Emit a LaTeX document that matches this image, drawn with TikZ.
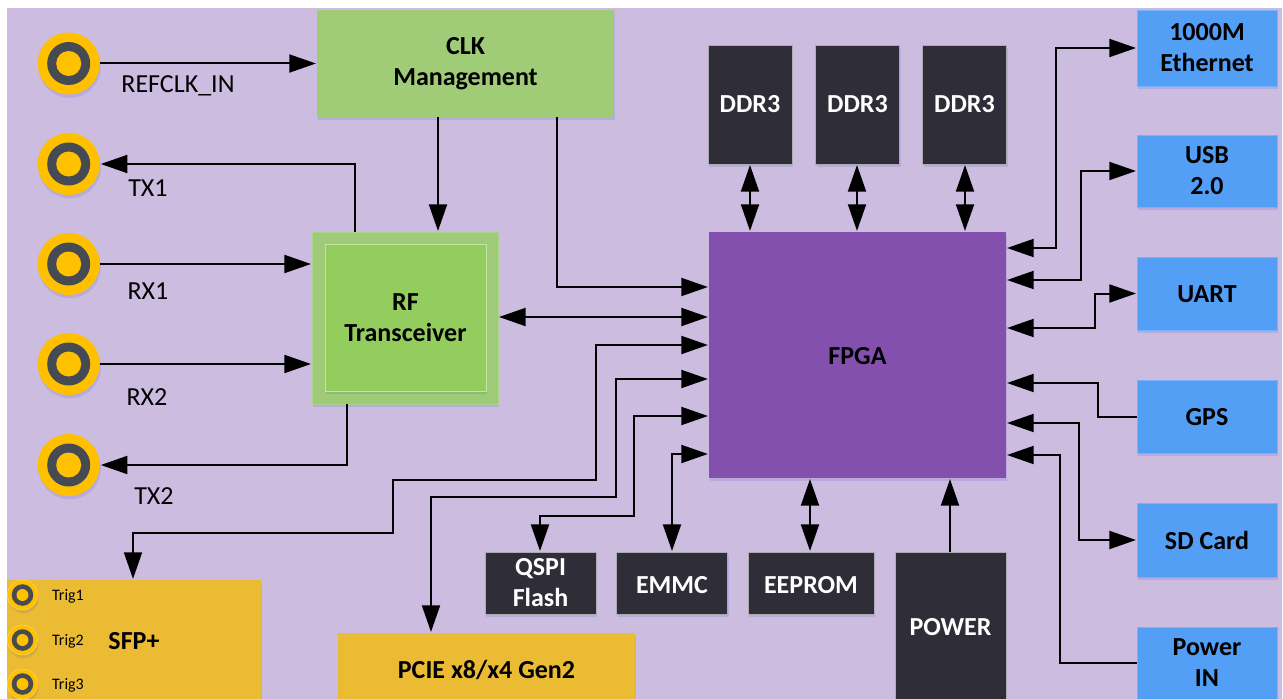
\documentclass[tikz,border=0pt]{standalone}
\usepackage{fontspec}
\setmainfont{Carlito}
\usetikzlibrary{arrows.meta,shadows,calc}

\definecolor{backlilac}{HTML}{CBBCE0}
\definecolor{clkgreen}{HTML}{A0CC78}
\definecolor{rfouter}{HTML}{9FCA78}
\definecolor{rfinner}{HTML}{93CD5E}
\definecolor{fpgapurple}{HTML}{8350AD}
\definecolor{chipdark}{HTML}{2F2D38}
\definecolor{ifaceblue}{HTML}{529FF5}
\definecolor{slotgold}{HTML}{EBBB34}
\definecolor{coaxgold}{HTML}{FFC000}
\definecolor{coaxgray}{HTML}{464A52}

\tikzset{
	softshadow/.style={drop shadow={shadow xshift=0.8pt, shadow yshift=-2.5pt, opacity=0.09, fill=blue!70!black}},
	boldtext/.style={font=\fontsize{19.5}{23.25}\selectfont\bfseries},
	textdrop/.style={execute at begin node={\rule{0pt}{#1}}},
	block/.style args={#1 by #2}{rectangle, inner sep=0pt, align=center, softshadow, boldtext,
		minimum width=#1*0.75pt, minimum height=#2*0.75pt},
	chip/.style={block=#1, fill=chipdark, draw=white!60!chipdark, line width=0.3pt, text=white},
	iface/.style={block=140 by #1, fill=ifaceblue, draw=white!20!ifaceblue, line width=0.3pt, textdrop=13.5pt},
	slot/.style={block=#1, fill=slotgold},
	coax/.style={circle, inner sep=0pt, minimum size=#1*1.5pt, fill=coaxgold, softshadow},
	lbl/.style={font=\fontsize{19.5}{22}\selectfont},
	trig/.style={font=\fontsize{12}{14}\selectfont},
	wire/.style={line width=1.5pt},
	arr/.style={wire, -{Triangle[length=20pt,width=13.5pt]}, shorten >=0.6pt},
	darr/.style={wire, {Triangle[length=20pt,width=13.5pt]}-{Triangle[length=20pt,width=13.5pt]},
		shorten >=0.6pt, shorten <=0.6pt},
}

\begin{document}
\begin{tikzpicture}[x=0.75pt,y=-0.75pt]

	% page and backdrop
	\useasboundingbox (0,0) rectangle (1283,699);
	\fill[white] (0,0) rectangle (1283,699);
	\fill[backlilac] (6.5,8) rectangle (1282,699);

	% rf connectors
	\foreach \name/\y in {refclk/63.5,txa/164,rxa/264,rxb/364,txb/465} {
		\node[coax=31] (\name) at (68.7,\y) {};
		\fill[coaxgray] (\name) circle (21.5);
		\fill[coaxgold] (\name) circle (12.5);
	}

	% main blocks
	\node[block=297 by 107, fill=clkgreen, textdrop=19.5pt] (clk) at (465.5,63.5) {CLK\\Management};
	\node[block=186 by 172, fill=rfouter, draw=white!15!rfouter, line width=0.3pt] (rf) at (405,318) {};
	\node[block=161 by 147, fill=rfinner, draw=white!45!rfinner, line width=0.6pt] (rfcore) at (405.5,317.5) {RF\\Transceiver};
	\node[block=297 by 246, fill=fpgapurple, text=black, textdrop=14pt] (fpga) at (857.5,355) {FPGA};

	% memories
	\foreach \name/\x in {ddra/750,ddrb/857.5,ddrc/964.5} {
		\node[chip=84 by 119] (\name) at (\x,104.5) {DDR3};
	}

	% lower chips
	\node[chip=111 by 62, textdrop=19.5pt] (qspi) at (540.5,583) {QSPI\\Flash};
	\node[chip=111 by 62, textdrop=15.5pt] (emmc) at (672,583) {EMMC};
	\node[chip=126 by 62, textdrop=15.5pt] (eeprom) at (811,583) {EEPROM};
	\node[chip=111 by 147, textdrop=15.5pt] (power) at (950.5,625.5) {POWER};

	% interfaces
	\node[iface=76] (eth) at (1207,48) {1000M\\Ethernet};
	\node[iface=72] (usb) at (1207,171) {USB\\2.0};
	\node[iface=73] (uart) at (1207,293.5) {UART};
	\node[iface=73] (gps) at (1207,416.5) {GPS};
	\node[iface=74] (sd) at (1207,540) {SD Card};
	\node[iface=72] (pwrin) at (1207,663) {Power\\IN};

	% slots
	\node[slot=254 by 119, textdrop=15.5pt] (sfp) at (134,639.5) {SFP+};
	\node[slot=297 by 66, textdrop=19pt] (pcie) at (486.5,666) {PCIE x8/x4 Gen2};

	% trigger connectors
	\foreach \name/\y/\t in {triga/595/Trig1,trigb/640/Trig2,trigc/684/Trig3} {
		\node[coax=15, draw=white!45!coaxgold, line width=0.3pt] (\name) at (22.5,\y) {};
		\fill[coaxgray] (\name) circle (10.8);
		\fill[coaxgold] (\name) circle (6);
		\node[trig] (\name l) at (68,\y+1.5) {\t};
	}

	% connector labels
	\node[lbl] (refclkl) at (178,86) {REFCLK\_IN};
	\node[lbl] (txal) at (148,188) {TX1};
	\node[lbl] (rxal) at (148,291) {RX1};
	\node[lbl] (rxbl) at (147,397) {RX2};
	\node[lbl] (txbl) at (154,496) {TX2};

	% left side wires
	\draw[arr] (refclk) -- (clk.west |- refclk);
	\draw[arr] (rf.north -| 355,0) |- (txa);
	\draw[arr] (rxa) -- (rf.west |- rxa);
	\draw[arr] (rxb) -- (rf.west |- rxb);
	\draw[arr] (rf.south -| 347,0) |- (txb);
	\draw[arr] (clk.south -| 438,0) -- (rf.north -| 438,0);
	\draw[arr] (clk.south -| 557,0) |- (fpga.west |- 0,287);
	\draw[darr] (rf.east |- 0,317) -- (fpga.west |- 0,317);

	% wires to the lower left
	\draw[darr] (fpga.west |- 0,345) -| (596,480) -| (393,533) -| (133,533) -- (sfp.north -| 133,0);
	\draw[darr] (fpga.west |- 0,379) -| (616,497) -| (431,497) -- (pcie.north -| 431,0);
	\draw[darr] (fpga.west |- 0,416) -| (634,516) -| (540,516) -- (qspi.north -| 540,0);
	\draw[darr] (fpga.west |- 0,454) -| (672,454) -- (emmc.north -| 672,0);

	% wires above and below the fpga
	\foreach \name/\x in {ddra/750,ddrb/857,ddrc/965} {
		\draw[darr] (\name.south -| \x,0) -- (fpga.north -| \x,0);
	}
	\draw[darr] (eeprom.north -| 810,0) -- (fpga.south -| 810,0);
	\draw[arr] (power.north -| 950,0) -- (fpga.south -| 950,0);

	% wires to the right
	\draw[darr] (fpga.east |- 0,248) -| (1056,48) -- (eth.west);
	\draw[darr] (fpga.east |- 0,280) -| (1081,171) -- (usb.west);
	\draw[darr] (fpga.east |- 0,328) -| (1095,293.5) -- (uart.west);
	\draw[arr] (gps.west) -| (1098,383) -- (fpga.east |- 0,383);
	\draw[darr] (fpga.east |- 0,423) -| (1079,540) -- (sd.west);
	\draw[arr] (pwrin.west) -| (1060,455) -- (fpga.east |- 0,455);

\end{tikzpicture}
\end{document}
